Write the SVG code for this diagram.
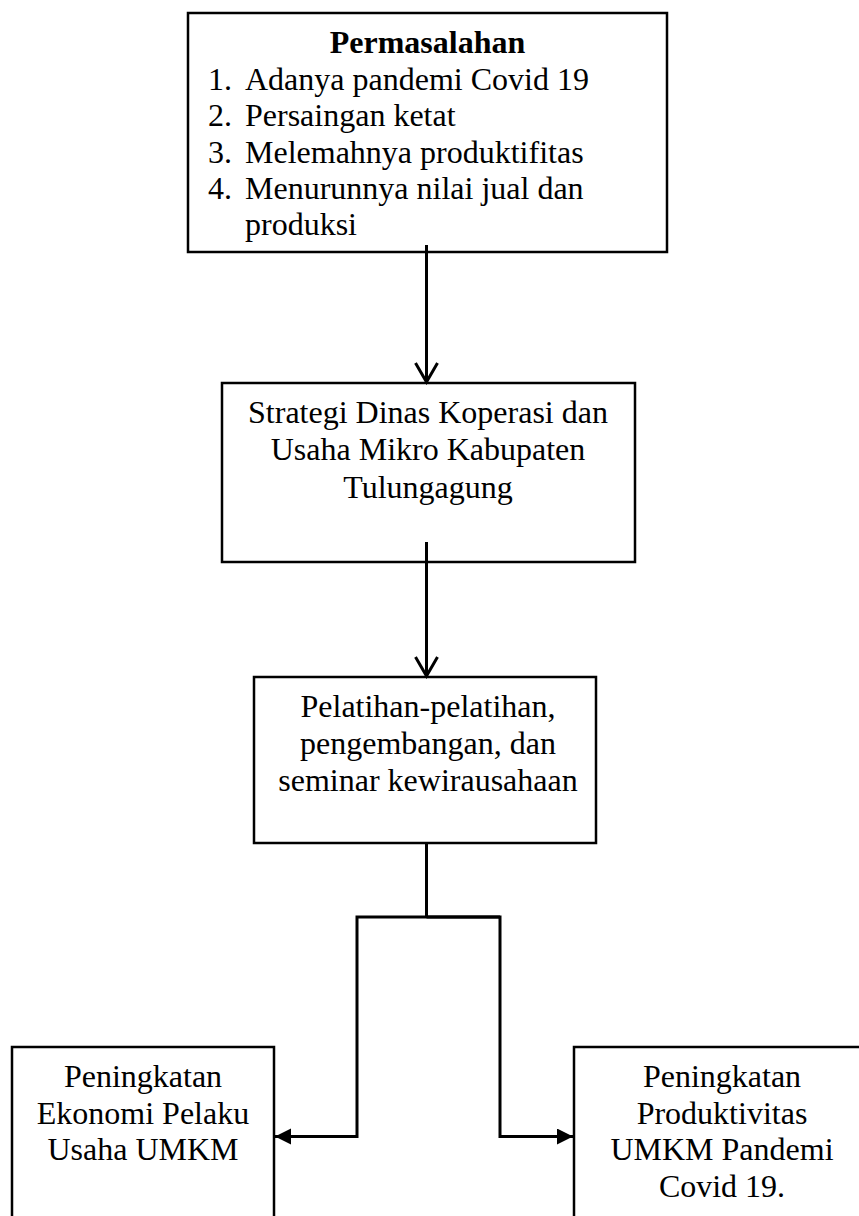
<svg xmlns="http://www.w3.org/2000/svg" width="859" height="1216" viewBox="0 0 859 1216">
<style>
.box{fill:#fff;stroke:#000;stroke-width:2.5}
.t{font-family:"Liberation Serif","Times New Roman",serif;font-size:32px;fill:#000}
.c{text-anchor:middle}
.ln{fill:none;stroke:#000;stroke-width:3}
</style>
<defs>
<marker id="open" markerWidth="30" markerHeight="30" refX="20" refY="12" orient="auto" markerUnits="userSpaceOnUse">
<path d="M1,1 L20,12 L1,23" fill="none" stroke="#000" stroke-width="3"/>
</marker>
<marker id="fill" markerWidth="20" markerHeight="20" refX="16" refY="8" orient="auto" markerUnits="userSpaceOnUse">
<path d="M0,0 L16,8 L0,16 Z" fill="#000"/>
</marker>
</defs>
<rect width="859" height="1216" fill="#fff"/>
<g id="permasalahan">
<rect class="box" x="188" y="13" width="479" height="239"/>
<text class="t c" x="427.5" y="53" font-weight="bold">Permasalahan</text>
<text class="t" x="208" y="90">1.</text><text class="t" x="245" y="90">Adanya pandemi Covid 19</text>
<text class="t" x="208" y="126">2.</text><text class="t" x="245" y="126">Persaingan ketat</text>
<text class="t" x="208" y="163">3.</text><text class="t" x="245" y="163">Melemahnya produktifitas</text>
<text class="t" x="208" y="199">4.</text><text class="t" x="245" y="199">Menurunnya nilai jual dan</text>
<text class="t" x="245" y="235">produksi</text>
</g>
<g id="strategi">
<rect class="box" x="222" y="383" width="413" height="179"/>
<text class="t c" x="428" y="423">Strategi Dinas Koperasi dan</text>
<text class="t c" x="428" y="460">Usaha Mikro Kabupaten</text>
<text class="t c" x="428" y="498">Tulungagung</text>
</g>
<g id="pelatihan">
<rect class="box" x="254" y="677" width="342" height="166"/>
<text class="t c" x="428" y="717">Pelatihan-pelatihan,</text>
<text class="t c" x="428" y="754">pengembangan, dan</text>
<text class="t c" x="428" y="791">seminar kewirausahaan</text>
</g>
<g id="ekonomi">
<rect class="box" x="12" y="1047" width="262" height="200"/>
<text class="t c" x="143" y="1087">Peningkatan</text>
<text class="t c" x="143" y="1124">Ekonomi Pelaku</text>
<text class="t c" x="143" y="1160">Usaha UMKM</text>
</g>
<g id="produktivitas">
<rect class="box" x="574" y="1047" width="296" height="200"/>
<text class="t c" x="722" y="1087">Peningkatan</text>
<text class="t c" x="722" y="1124">Produktivitas</text>
<text class="t c" x="722" y="1160">UMKM Pandemi</text>
<text class="t c" x="722" y="1197">Covid 19.</text>
</g>
<g id="connectors">
<path class="ln" d="M426.5,245 V382" marker-end="url(#open)"/>
<path class="ln" d="M426.5,542 V676" marker-end="url(#open)"/>
<path class="ln" d="M426.5,844 V917"/>
<path class="ln" d="M500,917 H357 V1136.5 H275" marker-end="url(#fill)"/>
<path class="ln" d="M426.5,917 H500 V1136.5 H573" marker-end="url(#fill)"/>
</g>
</svg>
